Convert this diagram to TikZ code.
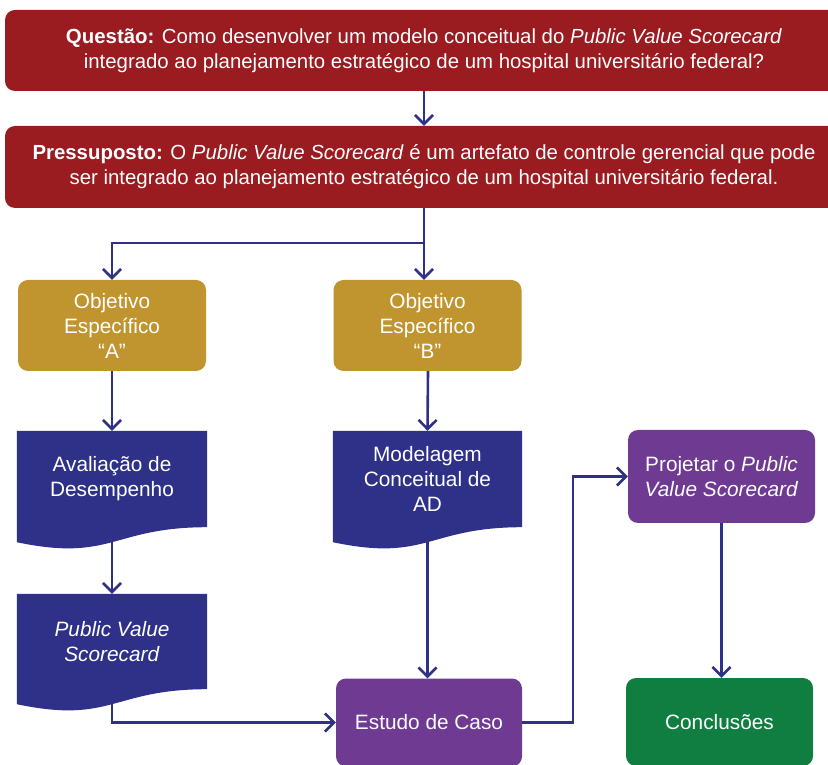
\documentclass[tikz,border=0pt]{standalone}
\usepackage{fontspec}
\setmainfont{Liberation Sans}
\usetikzlibrary{arrows.meta,calc,backgrounds}
\definecolor{boxred}{HTML}{9A1B20}
\definecolor{boxgold}{HTML}{C0952F}
\definecolor{boxnavy}{HTML}{2E3187}
\definecolor{boxpurple}{HTML}{6E3A92}
\definecolor{boxgreen}{HTML}{107D41}
\definecolor{linknavy}{HTML}{2E3187}

% wavy-bottom "document" fill behind a node
\newcommand\docshape[2]{%
  \fill[#2] (#1.north west) -- (#1.north east) -- (#1.south east)
    .. controls (#1.south) and ($(#1.south)+(0,-35)$) .. ($(#1.south west)+(0,-15)$) -- cycle;}

\begin{document}
\begin{tikzpicture}[x=1pt,y=1pt,
  txt/.style={font=\fontsize{20.8}{25}\selectfont, text=white, align=center, inner sep=0pt},
  widetxt/.style={font=\fontsize{20.4}{25}\selectfont},
  rbox/.style={txt, rounded corners=10pt},
  docbox/.style={txt, minimum width=190, minimum height=96},
  link/.style={draw=linknavy, line width=2.6pt, -{Straight Barb[length=9pt,width=18pt]}},
  plain/.style={draw=linknavy, line width=2.6pt}]
\useasboundingbox (0,0) rectangle (828,764);

\node[rbox, widetxt, fill=boxred, minimum width=838, minimum height=81] (q) at (424,713.5)
  {\textbf{Questão:} Como desenvolver um modelo conceitual do \textit{Public Value Scorecard}\\
   integrado ao planejamento estratégico de um hospital universitário federal?};
\node[rbox, widetxt, fill=boxred, minimum width=838, minimum height=82] (p) at (424,597)
  {\textbf{Pressuposto:} O \textit{Public Value Scorecard} é um artefato de controle gerencial que pode\\
   ser integrado ao planejamento estratégico de um hospital universitário federal.};

\node[rbox, fill=boxgold, minimum width=188, minimum height=91] (obja) at (112,438.5)
  {Objetivo\\Específico\\“A”};
\node[rbox, fill=boxgold, minimum width=188, minimum height=91] (objb) at (427.5,438.5)
  {Objetivo\\Específico\\“B”};

\node[docbox] (aval) at (112,285) {Avaliação de\\Desempenho};
\node[docbox, minimum width=189] (mod) at (427.5,285) {Modelagem\\Conceitual de\\AD};
\node[docbox, minimum height=95] (pvs) at (112,122.5) {\textit{Public Value}\\\textit{Scorecard}};
\begin{scope}[on background layer]
  \docshape{aval}{boxnavy}
  \docshape{mod}{boxnavy}
  \docshape{pvs}{boxnavy}
\end{scope}
\coordinate (aval-b) at ($(aval.south)+(0,-15)$);
\coordinate (mod-b) at ($(mod.south)+(0,-15)$);
\coordinate (pvs-b) at ($(pvs.south)+(0,-15)$);

\node[rbox, fill=boxpurple, minimum width=186, minimum height=88] (estudo) at (429,41.5) {Estudo de Caso};
\node[rbox, fill=boxpurple, minimum width=187, minimum height=93] (proj) at (721.5,287.5)
  {Projetar o \textit{Public}\\\textit{Value Scorecard}};
\node[rbox, fill=boxgreen, minimum width=187, minimum height=88] (concl) at (719.5,42) {Conclusões};

% connectors
\coordinate (split) at (424,521);
\coordinate (turn) at (573,41.5);
\draw[link] (q.south) -- (p.north);
\draw[plain] (p.south) -- (split);
\draw[link] (split) -| (obja.north);
\draw[link] (split) -- (split |- objb.north);
\draw[link] (obja.south) -- (aval.north);
\draw[link] ($(objb.south)+(0.5,0)$) -- (mod.north);
\draw[link] (aval-b) -- (pvs.north);
\draw[link] (pvs-b) |- (estudo.west);
\draw[link] (mod-b) -- (mod-b |- estudo.north);
\draw[link] (estudo.east) -- (turn) |- (proj.west);
\draw[link] (proj.south) -- (proj.south |- concl.north);
\end{tikzpicture}
\end{document}
